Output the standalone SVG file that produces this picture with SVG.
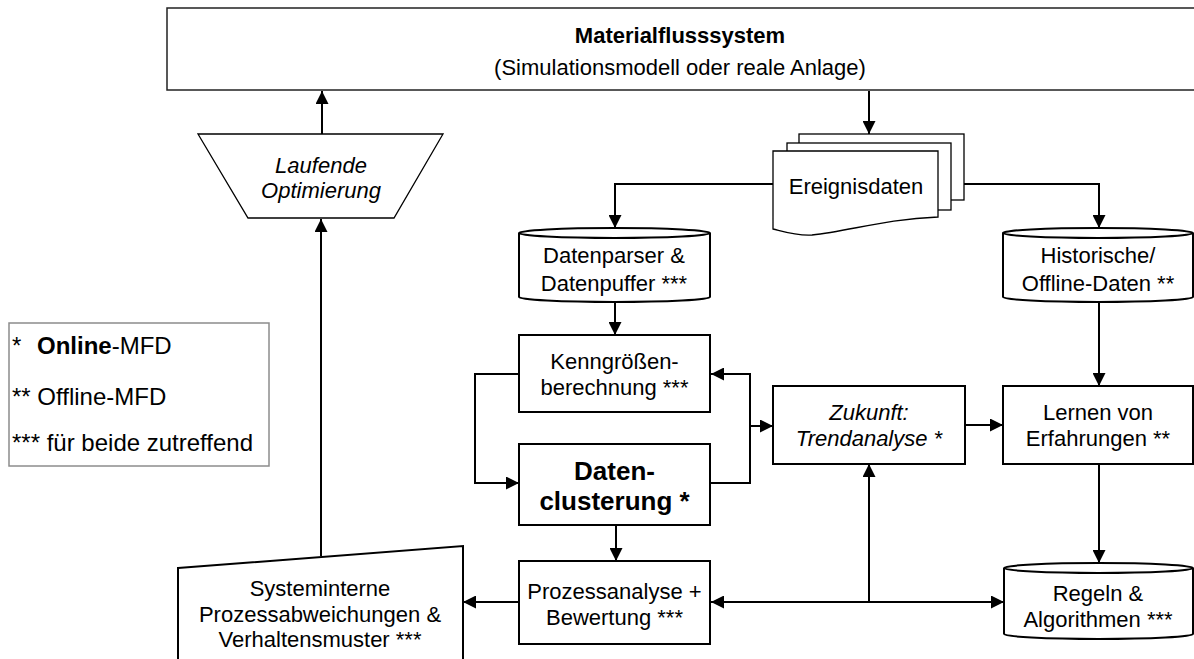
<svg xmlns="http://www.w3.org/2000/svg" width="1194" height="659" viewBox="0 0 1194 659">
<style>
text{font-family:"Liberation Sans",Arial,sans-serif;font-size:22px;fill:#000;text-anchor:middle}
.b{font-weight:bold}
.i{font-style:italic}
.big{font-size:26px;font-weight:bold}
.lg{font-size:24px;text-anchor:start}
.box{fill:#fff;stroke:#000;stroke-width:2}
.thin{fill:#fff;stroke:#000;stroke-width:1.3}
.conn{fill:none;stroke:#000;stroke-width:2}
</style>
<defs>
<marker id="ah" viewBox="0 0 13 13" refX="13" refY="6.5" markerWidth="13" markerHeight="13" markerUnits="userSpaceOnUse" orient="auto-start-reverse">
<path d="M0,0 L13,6.5 L0,13 z" fill="#000"/>
</marker>
</defs>
<rect width="1194" height="659" fill="#fff"/>

<g id="materialfluss">
<rect x="167" y="8" width="1030" height="82" fill="#fff" stroke="#222" stroke-width="1.5"/>
<text class="b" x="680" y="43">Materialflusssystem</text>
<text x="680" y="75">(Simulationsmodell oder reale Anlage)</text>
</g>

<g id="optimierung">
<polygon points="198,134 443,134 394,218 248,218" class="thin"/>
<text class="i" x="321" y="173">Laufende</text>
<text class="i" x="321" y="198">Optimierung</text>
</g>

<g id="ereignisdaten">
<rect x="799" y="134" width="165" height="66" class="thin"/>
<rect x="787" y="143" width="164" height="67" class="thin"/>
<path d="M773,151 L938,151 L938,217 C885,219 850,231 812,235 C797,236 785,232 773,229 Z" class="thin"/>
<text x="856" y="194">Ereignisdaten</text>
</g>

<g id="datenparser">
<path d="M519,233 L519,297 A95.5,5 0 0 0 710,297 L710,233" class="box" stroke-width="2.4"/>
<ellipse cx="614.5" cy="233" rx="95.5" ry="5" class="box" stroke-width="2.4"/>
<text x="614" y="263">Datenparser &amp;</text>
<text x="614" y="291">Datenpuffer ***</text>
</g>

<g id="historische">
<path d="M1003,233 L1003,297 A95,5 0 0 0 1193,297 L1193,233" class="box" stroke-width="1.6"/>
<ellipse cx="1098" cy="233" rx="95" ry="5" class="box" stroke-width="1.6"/>
<text x="1098" y="263">Historische/</text>
<text x="1098" y="291">Offline-Daten **</text>
</g>

<g id="legende">
<rect x="9" y="323" width="260" height="143" fill="#fff" stroke="#8c8c8c" stroke-width="1.5"/>
<text class="lg" x="12" y="354">*<tspan class="b" x="37">Online</tspan>-MFD</text>
<text class="lg" x="12" y="405">** Offline-MFD</text>
<text class="lg" x="12" y="451">*** für beide zutreffend</text>
</g>

<g id="kenngroessen">
<rect x="519" y="335" width="191" height="77" class="box"/>
<text x="614.5" y="369">Kenngrößen-</text>
<text x="614.5" y="395">berechnung ***</text>
</g>

<g id="datenclusterung">
<rect x="519" y="444" width="191" height="81" class="box" stroke-width="2.5"/>
<text class="big" x="614.5" y="480">Daten-</text>
<text class="big" x="614.5" y="510">clusterung *</text>
</g>

<g id="trendanalyse">
<rect x="773" y="386" width="192" height="78" class="box" stroke-width="2.2"/>
<text class="i" x="869" y="420">Zukunft:</text>
<text class="i" x="869" y="446">Trendanalyse *</text>
</g>

<g id="lernen">
<rect x="1003" y="386" width="190" height="78" class="box" stroke-width="1.7"/>
<text x="1098" y="420">Lernen von</text>
<text x="1098" y="446">Erfahrungen **</text>
</g>

<g id="prozessanalyse">
<rect x="519" y="561" width="191" height="83" class="box" stroke-width="2.5"/>
<text x="614.5" y="599">Prozessanalyse +</text>
<text x="614.5" y="625">Bewertung ***</text>
</g>

<g id="regeln">
<path d="M1004,568 L1004,634 A94.5,5 0 0 0 1193,634 L1193,568" class="box" stroke-width="1.7"/>
<ellipse cx="1098.5" cy="568" rx="94.5" ry="5" class="box" stroke-width="1.7"/>
<text x="1098" y="601">Regeln &amp;</text>
<text x="1098" y="627">Algorithmen ***</text>
</g>

<g id="systeminterne">
<polygon points="178,568 463,546 463,665 178,665" class="box"/>
<text x="320" y="596">Systeminterne</text>
<text x="320" y="622">Prozessabweichungen &amp;</text>
<text x="320" y="647">Verhaltensmuster ***</text>
</g>

<g id="connectors">
<path class="conn" d="M322,134 L322,91" marker-end="url(#ah)"/>
<path class="conn" d="M321,556 L321,219" marker-end="url(#ah)"/>
<path class="conn" d="M869,91 L869,134" marker-end="url(#ah)"/>
<path class="conn" d="M773,184 L615,184 L615,228" marker-end="url(#ah)"/>
<path class="conn" d="M964,184 L1099,184 L1099,228" marker-end="url(#ah)"/>
<path class="conn" d="M615,302 L615,335" marker-end="url(#ah)"/>
<path class="conn" d="M519,374 L475,374 L475,483 L519,483" marker-end="url(#ah)"/>
<path class="conn" d="M710,483 L750,483 L750,374 L711,374" marker-end="url(#ah)"/>
<path class="conn" d="M750,426 L773,426" marker-end="url(#ah)"/>
<path class="conn" d="M965,425 L1003,425" marker-end="url(#ah)"/>
<path class="conn" d="M1099,302 L1099,386" marker-end="url(#ah)"/>
<path class="conn" d="M1099,464 L1099,563" marker-end="url(#ah)"/>
<path class="conn" d="M616,525 L616,561" marker-end="url(#ah)"/>
<path class="conn" d="M519,602 L463,602" marker-end="url(#ah)"/>
<path class="conn" d="M711,602 L1004,602" marker-start="url(#ah)" marker-end="url(#ah)"/>
<path class="conn" d="M869,602 L869,464" marker-end="url(#ah)"/>
</g>
</svg>
